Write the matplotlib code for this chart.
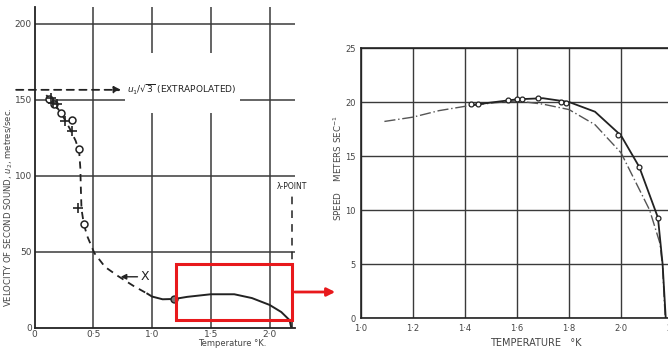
import matplotlib
matplotlib.use("Agg")
import matplotlib.pyplot as plt
from matplotlib.patches import Rectangle, FancyArrowPatch

# ---- left panel: velocity of second sound ----
circ_T = [0.12, 0.166, 0.226, 0.32, 0.38, 0.42]
circ_v = [150.7, 147, 141.4, 136.8, 117.8, 68.4]
plus_T = [0.14, 0.157, 0.19, 0.26, 0.32, 0.37]
plus_v = [151, 148, 147, 136, 129.6, 79]
dash_T = [0.10, 0.15, 0.20, 0.25, 0.30, 0.35, 0.38, 0.39, 0.395, 0.40, 0.42, 0.45, 0.51, 0.60, 0.71, 0.84, 0.96]
dash_v = [153, 149, 144, 138, 131, 123, 116, 105, 90, 78, 68, 60, 49, 40, 34, 27.6, 22.4]
solid_T = [0.96, 1.0, 1.09, 1.19, 1.3, 1.5, 1.7, 1.85, 2.0, 2.1, 2.17, 2.185]
solid_v = [22.4, 20.5, 18.7, 18.9, 20.3, 22.0, 22.0, 19.5, 15.0, 10.3, 5.0, 0.0]
left_ticks = [0, 0.5, 1.0, 1.5, 2.0]
left_ticklabels = ["0", "0·5", "1·0", "1·5", "2·0"]
extrap_v = 156.5
lambda_T = 2.19

# ---- right panel: speed vs temperature ----
r_pts_T = [1.423, 1.45, 1.566, 1.60, 1.62, 1.68, 1.77, 1.79, 1.99, 2.07, 2.142]
r_pts_v = [19.8, 19.8, 20.2, 20.25, 20.3, 20.4, 20.0, 19.95, 16.9, 14.0, 9.3]
r_solid_T = [1.42, 1.5, 1.6, 1.7, 1.8, 1.9, 2.0, 2.07, 2.142, 2.16, 2.172]
r_solid_v = [19.7, 19.95, 20.25, 20.35, 20.0, 19.1, 16.9, 14.0, 9.3, 5.0, 0.0]
r_dash_T = [1.09, 1.2, 1.3, 1.4, 1.5, 1.6, 1.7, 1.8, 1.9, 2.0, 2.11, 2.15, 2.16, 2.17]
r_dash_v = [18.2, 18.6, 19.2, 19.6, 19.9, 20.1, 19.8, 19.3, 17.9, 15.3, 10.0, 6.9, 4.7, 0.0]
r_xticks = [1.0, 1.2, 1.4, 1.6, 1.8, 2.0, 2.2]
r_xticklabels = ["1·0", "1·2", "1·4", "1·6", "1·8", "2·0", "2·2"]
r_yticks = [0, 5, 10, 15, 20, 25]

ink = "#222222"
gridc = "#3a3a3a"
textc = "#444444"

fig = plt.figure(figsize=(6.68, 3.5), dpi=100)

# left axes
ax = fig.add_axes([34.5 / 668, 22.3 / 350, 260.9 / 668, 320.7 / 350])
ax.set_xlim(0, 2.22)
ax.set_ylim(0, 211)
for s in ["top", "right"]:
    ax.spines[s].set_visible(False)
for s in ["left", "bottom"]:
    ax.spines[s].set_color(ink)
    ax.spines[s].set_linewidth(1.3)

# broken grid like the scan
ax.vlines([0.5, 2.0], 0, 211, color=gridc, lw=1.1)
ax.vlines([1.0, 1.5], 0, 141, color=gridc, lw=1.1)
ax.vlines([1.0, 1.5], 181, 211, color=gridc, lw=1.1)
ax.hlines([50, 100, 200], 0, 2.22, color=gridc, lw=1.1)
ax.hlines(150, 0, 0.77, color=gridc, lw=1.1)
ax.hlines(150, 1.75, 2.22, color=gridc, lw=1.1)

ax.plot(dash_T, dash_v, color=ink, lw=1.3, ls=(0, (4, 3)))
ax.plot(solid_T, solid_v, color=ink, lw=1.4)
ax.plot(circ_T, circ_v, "o", mfc="white", mec=ink, ms=5, mew=1.1)
ax.plot(plus_T, plus_v, "+", color=ink, ms=7, mew=1.2)
ax.plot([1.19], [18.9], "o", mfc="#777777", mec=ink, ms=5)

# extrapolated arrow
ax.annotate("", xy=(0.76, extrap_v), xytext=(-0.18, extrap_v),
            arrowprops=dict(arrowstyle="-|>", color=ink, lw=1.3, ls=(0, (4, 3)),
                            mutation_scale=10), annotation_clip=False)
ax.text(0.79, extrap_v, r"$u_1/\sqrt{3}$ (EXTRAPOLATED)", fontsize=6.5,
        color=ink, va="center", ha="left")
# X arrow
ax.annotate("", xy=(0.71, 33.5), xytext=(0.9, 33.5),
            arrowprops=dict(arrowstyle="-|>", color=ink, lw=1.0, mutation_scale=8))
ax.text(0.94, 33.5, "X", fontsize=9, color=ink, va="center", ha="center")
# lambda point
ax.vlines(lambda_T, 0, 88, color=ink, lw=1.1, linestyles=(0, (5, 4)), clip_on=False)
ax.text(lambda_T, 90, "λ-POINT", fontsize=5.5, color=ink, ha="center", va="bottom",
        clip_on=False)

ax.set_xticks(left_ticks)
ax.set_xticklabels(left_ticklabels)
ax.set_yticks([0, 50, 100, 150, 200])
ax.tick_params(length=0, labelsize=6.5, colors=textc, pad=2)
ax.tick_params(axis="x", pad=1.5)
ax.set_xlabel("Temperature °K.", fontsize=6, color=textc)
ax.xaxis.set_label_coords(0.757, -0.05)
ax.xaxis.label.set_va("center")
ax.set_ylabel("VELOCITY OF SECOND SOUND, $u_2$, metres/sec.", fontsize=6.1,
              color=textc)
ax.yaxis.set_label_coords(-0.1, 0.375)
ax.yaxis.label.set_va("center")

# red zoom box
ax.add_patch(Rectangle((1.204, 5), 2.19 - 1.204, 37, fill=False, ec="#e8191c",
                       lw=2.2, clip_on=False, zorder=5))

# right axes
ax2 = fig.add_axes([361 / 668, 32 / 350, 312 / 668, 270 / 350])
ax2.set_xlim(1.0, 2.2)
ax2.set_ylim(0, 25)
ax2.set_xticks(r_xticks)
ax2.set_xticklabels(r_xticklabels)
ax2.set_yticks(r_yticks)
ax2.grid(True, color=gridc, lw=1.0)
for s in ax2.spines.values():
    s.set_color(ink)
    s.set_linewidth(1.2)
ax2.tick_params(length=0, labelsize=6, colors=textc, pad=4)
ax2.plot(r_dash_T, r_dash_v, color="#555555", lw=1.0, ls=(0, (8, 2, 1, 2)))
ax2.plot(r_solid_T, r_solid_v, color=ink, lw=1.3)
ax2.plot(r_pts_T, r_pts_v, "o", mfc="white", mec=ink, ms=3.5, mew=0.9)
ax2.set_xlabel("TEMPERATURE   °K", fontsize=7, color=textc)
ax2.xaxis.set_label_coords(0.56, -0.093)
ax2.xaxis.label.set_va("center")
ax2.set_ylabel("SPEED    METERS SEC$^{-1}$", fontsize=6.3, color=textc)
ax2.yaxis.set_label_coords(-0.074, 0.555)
ax2.yaxis.label.set_va("center")

# red arrow between panels
arrow = FancyArrowPatch((292 / 668, 58 / 350), (338 / 668, 58 / 350),
                        transform=fig.transFigure, arrowstyle="-|>",
                        color="#e8191c", lw=2.0, mutation_scale=12)
fig.patches.append(arrow)

fig.savefig("out.png", dpi=100)
